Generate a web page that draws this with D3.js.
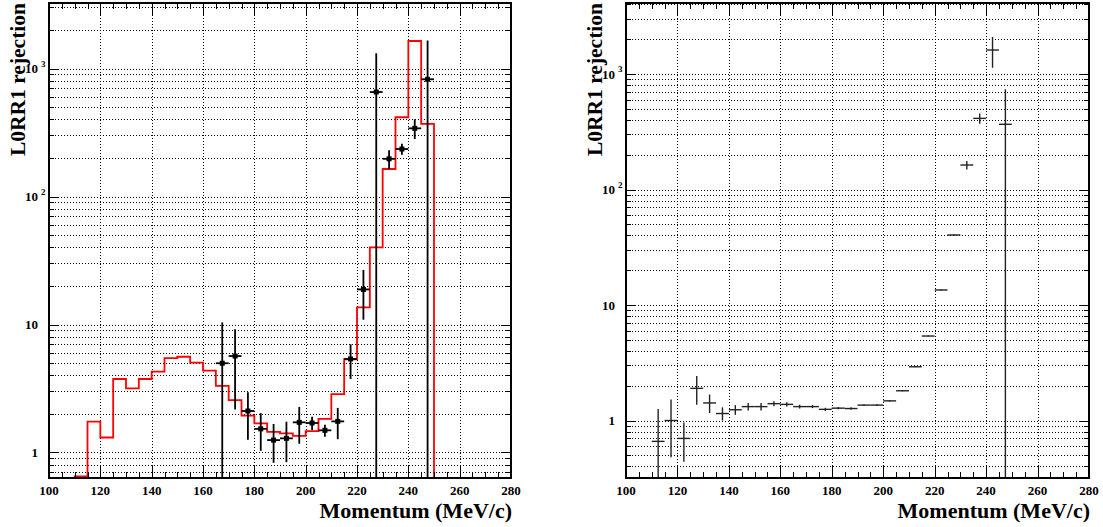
<!DOCTYPE html>
<html>
<head>
<meta charset="utf-8">
<script src="https://d3js.org/d3.v7.min.js"></script>
<style>
  html, body { margin: 0; padding: 0; background: #fff; }
  svg { display: block; }
  text { font-family: "Liberation Serif", "Times New Roman", serif; font-weight: bold; fill: #000; }
</style>
</head>
<body>
<svg id="chart" width="1103" height="527"></svg>
<script>
// ---------------- DATA ----------------
const xTickValues = [100, 120, 140, 160, 180, 200, 220, 240, 260, 280];
const yTickLabels = [
  { value: 1, base: "1", exp: "" },
  { value: 10, base: "10", exp: "" },
  { value: 100, base: "10", exp: "2" },
  { value: 1000, base: "10", exp: "3" }
];
const yTitle = "L0RR1 rejection";
const xTitle = "Momentum (MeV/c)";

// red histogram (left panel): lower bin edges and contents (5 MeV bins)
const redBinLow = [110, 115, 120, 125, 130, 135, 140, 145, 150, 155, 160, 165, 170, 175,
                   180, 185, 190, 195, 200, 205, 210, 215, 220, 225, 230, 235, 240, 245];
const redBinValue = [0.65, 1.74, 1.31, 3.75, 3.17, 3.75, 4.28, 5.47, 5.6, 5.03, 4.36, 3.32, 2.57, 1.94,
                     1.69, 1.45, 1.41, 1.35, 1.47, 1.83, 2.86, 5.35, 13.6, 40.1, 164, 416, 1640, 369];
const binHalfWidth = 2.5;

// black points (left panel)
const leftCenter = [167.5, 172.5, 177.5, 182.5, 187.5, 192.5, 197.5, 202.5, 207.5, 212.5,
                    217.5, 222.5, 227.5, 232.5, 237.5, 242.5, 247.5];
const leftValue  = [4.98, 5.67, 2.11, 1.53, 1.25, 1.29, 1.72, 1.70, 1.49, 1.75,
                    5.38, 18.8, 655, 197, 235, 341, 824];
const leftError  = [5.4, 3.5, 0.85, 0.5, 0.42, 0.45, 0.55, 0.2, 0.16, 0.48,
                    1.63, 7.9, 660, 33, 23, 60, 830];

// points (right panel)
const rightCenter = [112.5, 117.5, 122.5, 127.5, 132.5, 137.5, 142.5, 147.5, 152.5, 157.5,
                     162.5, 167.5, 172.5, 177.5, 182.5, 187.5, 192.5, 197.5, 202.5, 207.5,
                     212.5, 217.5, 222.5, 227.5, 232.5, 237.5, 242.5, 247.5];
const rightValue  = [0.66, 1.0, 0.70, 1.90, 1.42, 1.15, 1.24, 1.32, 1.32, 1.40,
                     1.38, 1.32, 1.32, 1.25, 1.28, 1.27, 1.36, 1.36, 1.48, 1.81,
                     2.92, 5.39, 13.5, 40.4, 163, 413, 1614, 367];
const rightError  = [0.6, 0.52, 0.26, 0.53, 0.26, 0.15, 0.12, 0.1, 0.1, 0.07,
                     0.06, 0.05, 0.04, 0.04, 0.03, 0.03, 0.02, 0.02, 0.02, 0.02,
                     0.03, 0.05, 0.15, 0.6, 14, 42, 480, 370];

// ---------------- DRAW ----------------
const svg = d3.select("#chart");

const panels = [
  { id: "L", x0: 49, x1: 511, y0: 3, y1: 478, ymin: 0.632, ymax: 3250,
    titleX: 25, hist: true, points: { c: leftCenter, v: leftValue, e: leftError, marker: true, color: "#000" } },
  { id: "R", x0: 626, x1: 1089, y0: 3, y1: 478, ymin: 0.318, ymax: 4120,
    titleX: 602, hist: false, points: { c: rightCenter, v: rightValue, e: rightError, marker: false, color: "#222" } }
];

panels.forEach(p => {
  const x = d3.scaleLinear().domain([100, 280]).range([p.x0, p.x1]);
  const y = d3.scaleLog().domain([p.ymin, p.ymax]).range([p.y1, p.y0]);
  const g = svg.append("g");

  const clipId = "clip" + p.id;
  svg.append("clipPath").attr("id", clipId)
    .append("rect").attr("x", p.x0).attr("y", p.y0)
    .attr("width", p.x1 - p.x0).attr("height", p.y1 - p.y0);

  // grid: y at every log tick
  const yGrid = [];
  for (let e = -1; e <= 4; e++) {
    for (let k = 1; k <= 9; k++) {
      const v = k * Math.pow(10, e);
      if (v > p.ymin && v < p.ymax) yGrid.push({ v: v, major: k === 1 });
    }
  }
  const grid = g.append("g").attr("stroke", "#000").attr("stroke-width", 1)
    .attr("stroke-dasharray", "1,2").attr("fill", "none");
  yGrid.forEach(t => {
    grid.append("line")
      .attr("x1", p.x0).attr("x2", p.x1)
      .attr("y1", Math.round(y(t.v)) + 0.5).attr("y2", Math.round(y(t.v)) + 0.5);
  });
  xTickValues.slice(1, -1).forEach(v => {
    grid.append("line")
      .attr("x1", Math.round(x(v)) + 0.5).attr("x2", Math.round(x(v)) + 0.5)
      .attr("y1", p.y0).attr("y2", p.y1);
  });

  const plot = g.append("g").attr("clip-path", `url(#${clipId})`);
  const yc = v => (v > 0 ? Math.min(y(Math.max(v, p.ymin * 0.5)), p.y1 + 5) : p.y1 + 5);

  // red histogram
  if (p.hist) {
    const pts = [];
    pts.push([x(redBinLow[0]), p.y1 + 5]);
    redBinLow.forEach((lo, i) => {
      pts.push([x(lo), yc(redBinValue[i])]);
      pts.push([x(lo + 2 * binHalfWidth), yc(redBinValue[i])]);
    });
    pts.push([x(redBinLow[redBinLow.length - 1] + 2 * binHalfWidth), p.y1 + 5]);
    plot.append("path")
      .attr("d", d3.line()(pts))
      .attr("fill", "none").attr("stroke", "#ff0000").attr("stroke-width", 1.8);
  }

  // points with error bars
  const P = p.points;
  const eb = plot.append("g").attr("stroke", P.color).attr("stroke-width", P.marker ? 1.8 : 1.4);
  P.c.forEach((c, i) => {
    const v = P.v[i], e = P.e[i];
    const cx = x(c);
    eb.append("line")
      .attr("x1", cx).attr("x2", cx)
      .attr("y1", yc(v + e)).attr("y2", yc(v - e));
    eb.append("line")
      .attr("x1", x(c - binHalfWidth)).attr("x2", x(c + binHalfWidth))
      .attr("y1", y(v)).attr("y2", y(v));
    if (P.marker) {
      plot.append("rect")
        .attr("x", cx - 2.5).attr("y", y(v) - 2.5)
        .attr("width", 5).attr("height", 5).attr("fill", "#000");
    }
  });

  // frame
  g.append("rect")
    .attr("x", p.x0).attr("y", p.y0)
    .attr("width", p.x1 - p.x0).attr("height", p.y1 - p.y0)
    .attr("fill", "none").attr("stroke", "#000").attr("stroke-width", 2);

  // x ticks (bottom and top)
  const ticks = g.append("g").attr("stroke", "#000").attr("stroke-width", 1);
  for (let v = 100; v <= 280; v += 5) {
    const major = v % 20 === 0;
    const len = major ? 12 : 6;
    const xx = Math.round(x(v)) + 0.5;
    ticks.append("line").attr("x1", xx).attr("x2", xx).attr("y1", p.y1).attr("y2", p.y1 - len);
    ticks.append("line").attr("x1", xx).attr("x2", xx).attr("y1", p.y0).attr("y2", p.y0 + len);
  }
  // y ticks (left and right)
  yGrid.forEach(t => {
    const len = t.major ? 10 : 5;
    const yy = Math.round(y(t.v)) + 0.5;
    ticks.append("line").attr("x1", p.x0).attr("x2", p.x0 + len).attr("y1", yy).attr("y2", yy);
    ticks.append("line").attr("x1", p.x1).attr("x2", p.x1 - len).attr("y1", yy).attr("y2", yy);
  });

  // x tick labels
  xTickValues.forEach(v => {
    g.append("text")
      .attr("x", x(v)).attr("y", p.y1 + 17)
      .attr("text-anchor", "middle").attr("font-size", 13)
      .text(v);
  });

  // y tick labels
  yTickLabels.forEach(t => {
    if (t.value < p.ymin || t.value > p.ymax) return;
    const yy = y(t.value);
    g.append("text")
      .attr("x", p.x0 - 11).attr("y", yy + 4.5)
      .attr("text-anchor", "end").attr("font-size", 13)
      .text(t.base);
    if (t.exp) {
      g.append("text")
        .attr("x", p.x0 - 8).attr("y", yy - 2)
        .attr("text-anchor", "start").attr("font-size", 9)
        .text(t.exp);
    }
  });

  // axis titles
  g.append("text")
    .attr("transform", `translate(${p.titleX},${p.y0}) rotate(-90)`)
    .attr("text-anchor", "end").attr("font-size", 21.5)
    .text(yTitle);
  g.append("text")
    .attr("x", p.x1 + 1).attr("y", 518)
    .attr("text-anchor", "end").attr("font-size", 22)
    .text(xTitle);
});
</script>
</body>
</html>
